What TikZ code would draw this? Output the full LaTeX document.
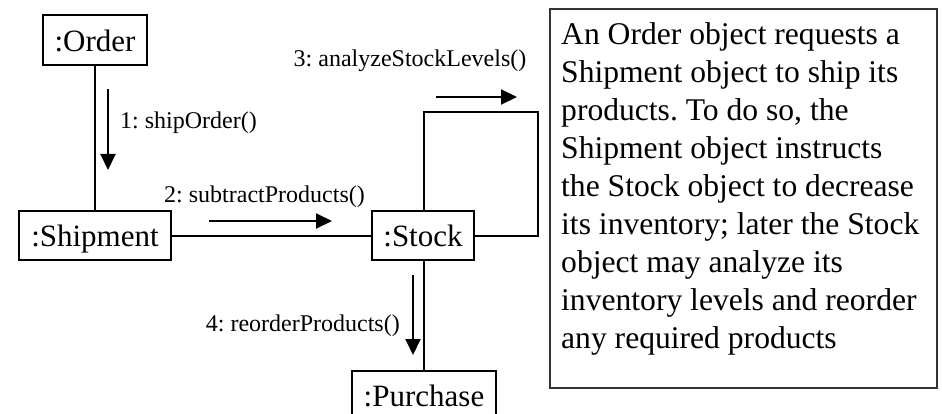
\documentclass[tikz,border=0pt]{standalone}
\usepackage{fontspec}
\setmainfont{Liberation Serif}
\usetikzlibrary{arrows.meta}
\frenchspacing
\begin{document}
\begin{tikzpicture}[x=1pt,y=-1pt,
  objbox/.style={draw=black, line width=1.6pt, inner sep=0pt, text height=23pt, text depth=0pt,
    font=\fontsize{31}{36}\selectfont, fill=white},
  link/.style={line width=2pt},
  msg/.style={line width=2pt, -{Triangle[length=16pt,width=15pt]}},
  msglabel/.style={inner sep=0pt, font=\fontsize{24}{28}\selectfont},
  notebox/.style={draw=black!80, line width=1.3pt}]
\useasboundingbox (0,0) rectangle (942,414);
% objects
\node[objbox, minimum width=104pt, minimum height=50pt] (order) at (95,40) {:Order};
\node[objbox, minimum width=152pt, minimum height=49pt] (ship) at (95,235.5) {:Shipment};
\node[objbox, minimum width=102pt, minimum height=49pt] (stock) at (423,235.5) {:Stock};
\node[objbox, minimum width=144pt, minimum height=47pt] (purch) at (424,394.5) {:Purchase};
% links
\coordinate (lt) at (424,112);
\coordinate (rt) at (538,112);
\coordinate (rb) at (538,235.5);
\draw[link] (order.south) -- (ship.north);
\draw[link] (ship.east) -- (stock.west);
\draw[link] (stock.south -| purch.north) -- (purch.north);
\draw[link] (stock.north -| lt) -- (lt) -- (rt) -- (rb) -- (stock.east);
% messages
\coordinate (m1a) at (108,89);  \coordinate (m1b) at (108,170);
\coordinate (m2a) at (209,221); \coordinate (m2b) at (332,221);
\coordinate (m3a) at (436,97);  \coordinate (m3b) at (517,97);
\coordinate (m4a) at (413,275); \coordinate (m4b) at (413,355);
\draw[msg] (m1a) -- (m1b);
\draw[msg] (m2a) -- (m2b);
\draw[msg] (m3a) -- (m3b);
\draw[msg] (m4a) -- (m4b);
\node[msglabel, anchor=base west] (l1) at (120,129) {1: shipOrder()};
\node[msglabel, anchor=base] (l2) at (264.5,203) {2: subtractProducts()};
\node[msglabel, anchor=base] (l3) at (410,67) {3: analyzeStockLevels()};
\node[msglabel, anchor=base east] (l4) at (400,331) {4: reorderProducts()};
% note
\draw[notebox] (550,9) rectangle (937,388);
\node[anchor=north west, inner sep=0pt, align=left, font=\fontsize{31.6}{38}\selectfont] (note) at (561,22.5)
{An Order object requests a\\Shipment object to ship its\\products. To do so, the\\Shipment object instructs\\the Stock object to decrease\\its inventory; later the Stock\\object may analyze its\\inventory levels and reorder\\any required products};
\end{tikzpicture}
\end{document}
